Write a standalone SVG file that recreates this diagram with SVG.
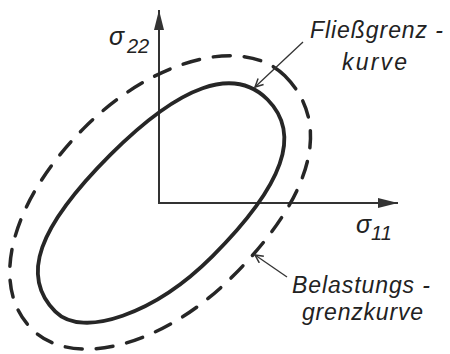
<svg xmlns="http://www.w3.org/2000/svg" width="450" height="354" viewBox="0 0 450 354">
<style>
.t{font-family:"Liberation Sans",Arial,sans-serif;font-style:italic;fill:#222}
.lbl{font-size:23px}
.sym{font-size:25px}
.sub{font-size:20px}
.ax{stroke:#333;stroke-width:2;fill:none}
.lead{stroke:#333;stroke-width:1.3;fill:none;marker-end:url(#barb)}
.curve{fill:none;stroke:#262626;stroke-linejoin:round}
</style>
<defs>
<marker id="barb" viewBox="0 0 10 10" refX="9" refY="5" markerWidth="10" markerHeight="10" markerUnits="userSpaceOnUse" orient="auto">
<path d="M1,1 L9,5 L1,9" fill="none" stroke="#333" stroke-width="1.5"/>
</marker>
<marker id="tri" viewBox="0 0 20 10" refX="20" refY="5" markerWidth="20" markerHeight="10" markerUnits="userSpaceOnUse" orient="auto">
<path d="M0,0 L20,5 L0,10 Z" fill="#333"/>
</marker>
</defs>
<rect width="450" height="354" fill="#fff"/>
<g id="axes">
<line class="ax" x1="159" y1="204" x2="159" y2="10" marker-end="url(#tri)"/>
<line class="ax" x1="158" y1="203" x2="398" y2="203" marker-end="url(#tri)"/>
</g>
<g id="fliessgrenzkurve" transform="translate(160,202) rotate(-45) translate(-1.5,3.5)">
<path class="curve" stroke-width="3.8" d="M150,0 C150,48.6 101.3,72 0,72 C-81,72 -150,38.9 -150,0 C-150,-49.7 -103.5,-72 0,-72 C99,-72 150,-47.5 150,0 Z"/>
</g>
<g id="belastungsgrenzkurve" transform="translate(160,202) rotate(-45) translate(-1.5,-1)">
<path class="curve" stroke-width="3.5" stroke-linecap="round" stroke-dasharray="17 14" d="M179,0 C179,67.2 114.6,105 0,105 C-98.8,105 -179,58 -179,0 C-179,-60.9 -103.8,-105 0,-105 C98.5,-105 179,-57.8 179,0 Z"/>
</g>
<g id="connectors">
<line class="lead" x1="303" y1="42" x2="255" y2="87"/>
<line class="lead" x1="287" y1="277" x2="255" y2="255"/>
</g>
<g id="label-s22">
<text class="t sym" x="109" y="45">σ</text><text class="t sub" x="127" y="53">22</text>
</g>
<g id="label-s11">
<text class="t sym" x="356" y="233">σ</text><text class="t sub" x="371" y="240">11</text>
</g>
<g id="label-fliess">
<text class="t lbl" x="310" y="38" textLength="133" lengthAdjust="spacing">Fließgrenz -</text>
<text class="t lbl" x="342" y="70" textLength="65" lengthAdjust="spacing">kurve</text>
</g>
<g id="label-belastung">
<text class="t lbl" x="292" y="293" textLength="138" lengthAdjust="spacing">Belastungs -</text>
<text class="t lbl" x="302" y="320" textLength="121" lengthAdjust="spacing">grenzkurve</text>
</g>
</svg>
